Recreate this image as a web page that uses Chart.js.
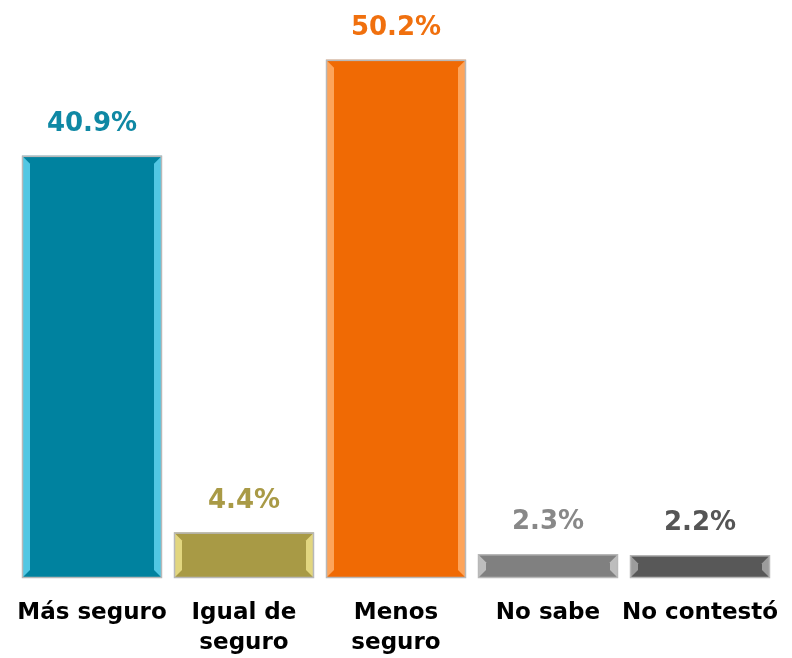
<!DOCTYPE html>
<html>
<head>
<meta charset="utf-8">
<script src="https://cdn.jsdelivr.net/npm/chart.js@4/dist/chart.umd.min.js"></script>
<style>
  html, body { margin: 0; padding: 0; background: #fff; }
  #wrap { width: 792px; height: 658px; }
</style>
</head>
<body>
<div id="wrap"><canvas id="c" width="792" height="658"></canvas></div>
<script>
const categories = [['Más seguro'], ['Igual de', 'seguro'], ['Menos', 'seguro'], ['No sabe'], ['No contestó']];
const values = [40.9, 4.4, 50.2, 2.3, 2.2];
const barColors = ['#00829f', '#a89a45', '#f06a04', '#808080', '#585858'];
const edgeColors = ['#5fd3ee', '#ece08a', '#ffae6a', '#c8c8c8', '#a8a8a8'];
const labelColors = ['#0f88a4', '#a99a46', '#f0700e', '#888888', '#555555'];

const FONT = '"DejaVu Sans", Lato, sans-serif';

// bevel look: light strips down the bar sides, plus the value above each bar
const bevel = {
	id: 'bevel',
	afterDatasetsDraw(chart) {
		const ctx = chart.ctx;
		const meta = chart.getDatasetMeta(0);
		meta.data.forEach((bar, i) => {
			const x0 = bar.x - bar.width / 2, x1 = bar.x + bar.width / 2;
			const y0 = bar.y, y1 = bar.base;
			const w = Math.min(7, (y1 - y0) / 2 - 1);
			ctx.save();
			ctx.fillStyle = edgeColors[i];
			ctx.globalAlpha = 0.85;
			ctx.beginPath();
			ctx.moveTo(x0 + 1, y0 + 1);
			ctx.lineTo(x0 + 1 + w, y0 + 1 + w);
			ctx.lineTo(x0 + 1 + w, y1 - 1 - w);
			ctx.lineTo(x0 + 1, y1 - 1);
			ctx.closePath();
			ctx.fill();
			ctx.beginPath();
			ctx.moveTo(x1 - 1, y0 + 1);
			ctx.lineTo(x1 - 1 - w, y0 + 1 + w);
			ctx.lineTo(x1 - 1 - w, y1 - 1 - w);
			ctx.lineTo(x1 - 1, y1 - 1);
			ctx.closePath();
			ctx.fill();
			ctx.globalAlpha = 1;
			ctx.strokeStyle = '#b8b8b8';
			ctx.lineWidth = 1.5;
			ctx.strokeRect(x0 + 0.5, y0 + 0.5, bar.width - 1, y1 - y0 - 1);
			// value label
			ctx.fillStyle = labelColors[i];
			ctx.font = 'bold 26px ' + FONT;
			ctx.textAlign = 'center';
			ctx.textBaseline = 'alphabetic';
			ctx.fillText(values[i].toFixed(1) + '%', bar.x, y0 - 25);
			ctx.restore();
		});
	}
};

new Chart(document.getElementById('c'), {
	type: 'bar',
	data: {
		labels: categories,
		datasets: [{
			data: values,
			backgroundColor: barColors,
			borderWidth: 0,
			barPercentage: 0.921,
			categoryPercentage: 1.0
		}]
	},
	options: {
		responsive: false,
		animation: false,
		layout: { padding: { left: 16, right: 16, top: 0, bottom: 0 } },
		plugins: { legend: { display: false }, tooltip: { enabled: false } },
		scales: {
			x: {
				grid: { display: false, drawTicks: false },
				border: { display: false },
				afterFit(scale) {
					scale.height = 80;
					scale.paddingLeft = 0;
					scale.paddingRight = 0;
				},
				ticks: {
					color: '#000',
					padding: 20,
					maxRotation: 0,
					autoSkip: false,
					font: { family: FONT, size: 23, weight: 'bold', lineHeight: 1.3 }
				}
			},
			y: {
				display: false,
				min: 0,
				max: 56
			}
		}
	},
	plugins: [bevel]
});
</script>
</body>
</html>
